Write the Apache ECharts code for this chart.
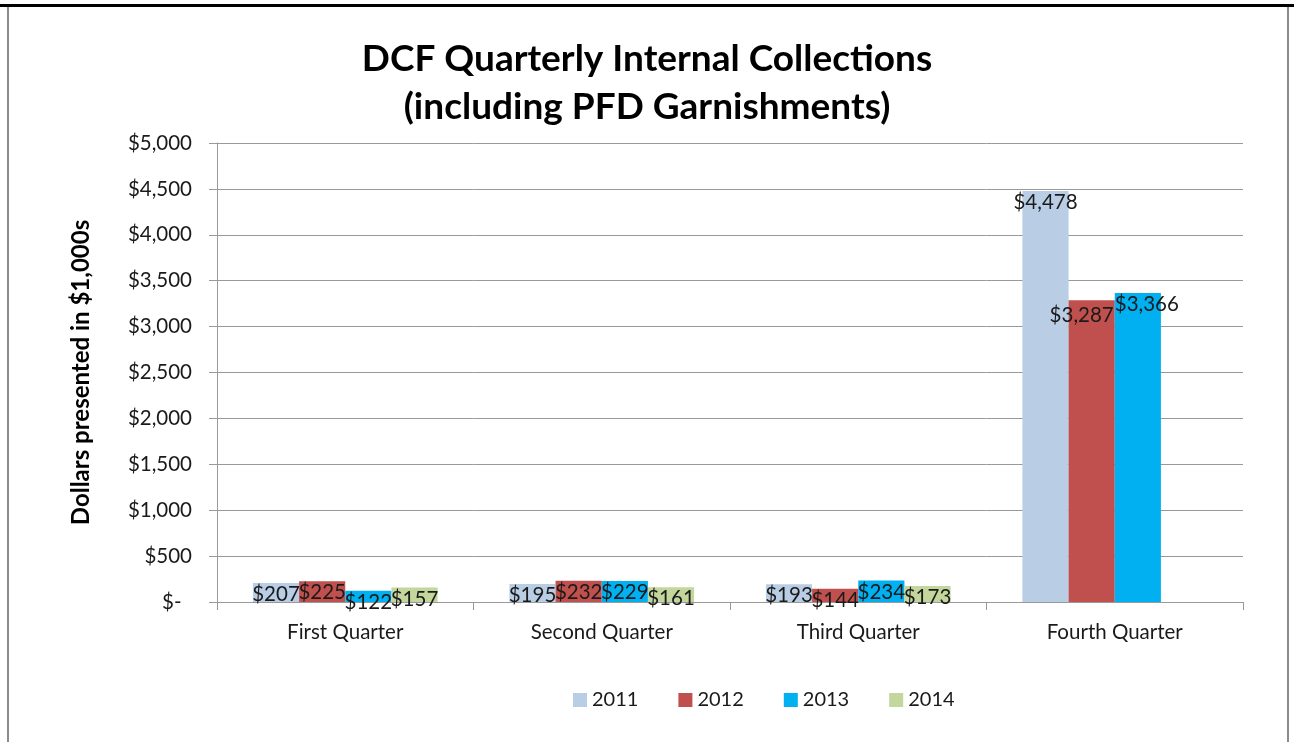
<!DOCTYPE html>
<html>
<head>
<meta charset="utf-8">
<title>DCF Quarterly Internal Collections</title>
<script src="https://cdn.jsdelivr.net/npm/echarts@6/dist/echarts.min.js"></script>
<style>
    html, body { margin: 0; padding: 0; background: #fff; }
    #main { width: 1294px; height: 742px; }
</style>
</head>
<body>
<div id="main"></div>
<script>
    // data (values in $1,000s)
    var quarters = ['First Quarter', 'Second Quarter', 'Third Quarter', 'Fourth Quarter'];
    var years = ['2011', '2012', '2013', '2014'];
    var v2011 = [207, 195, 193, 4478];
    var v2012 = [225, 232, 144, 3287];
    var v2013 = [122, 229, 234, 3366];
    var v2014 = [157, 161, 173, null];
    var yTicks = [0, 500, 1000, 1500, 2000, 2500, 3000, 3500, 4000, 4500, 5000];

    var colors = ['#B9CDE5', '#C0504D', '#00B0F0', '#C3D69B'];
    var font = 'Lato, "Open Sans", sans-serif';

    function money(v) {
        if (v === 0) return '$-  ';
        return '$' + String(v).replace(/\B(?=(\d{3})+(?!\d))/g, ',');
    }

    // excel put a couple of the big labels a bit off centre
    var labelShift = { '2012': { 3: [-10, 4] }, '2013': { 3: [9, 0] } };

    function makeSeries(name, values, i) {
        var shifts = labelShift[name] || {};
        return {
            name: name,
            type: 'bar',
            barGap: 0,
            barCategoryGap: '28%',
            itemStyle: { color: colors[i] },
            label: {
                show: true,
                position: 'insideTop',
                distance: 1,
                fontFamily: font,
                fontSize: 20.5,
                color: '#1a1a1a',
                formatter: function (p) { return money(p.value); }
            },
            data: values.map(function (v, k) {
                if (shifts[k]) {
                    return { value: v, label: { offset: shifts[k] } };
                }
                return v;
            })
        };
    }

    var myChart = echarts.init(document.getElementById('main'));
    var option = {
        animation: false,
        backgroundColor: '#fff',
        title: {
            text: 'DCF Quarterly Internal Collections\n(including PFD Garnishments)',
            left: 'center',
            top: 30,
            textStyle: {
                fontFamily: font,
                fontWeight: 'bold',
                fontSize: 37,
                lineHeight: 48,
                color: '#000'
            }
        },
        legend: {
            data: years,
            left: 568,
            top: 685,
            icon: 'rect',
            itemWidth: 14,
            itemHeight: 14,
            itemGap: 40,
            textStyle: { fontFamily: font, fontSize: 20, color: '#1a1a1a' }
        },
        grid: { left: 217, right: 51, top: 143, bottom: 140 },
        xAxis: {
            type: 'category',
            data: quarters,
            axisLine: { lineStyle: { color: '#999', width: 1 } },
            axisTick: { show: true, length: 8, lineStyle: { color: '#999' } },
            axisLabel: { fontFamily: font, fontSize: 20.5, color: '#1a1a1a', margin: 20 }
        },
        yAxis: {
            type: 'value',
            min: yTicks[0],
            max: yTicks[yTicks.length - 1],
            interval: 500,
            name: 'Dollars presented in $1,000s',
            nameLocation: 'middle',
            nameGap: 124,
            nameRotate: 90,
            nameTextStyle: { fontFamily: font, fontWeight: 'bold', fontSize: 24, color: '#000' },
            axisLine: { show: true, lineStyle: { color: '#999', width: 1 } },
            axisTick: { show: true, length: 8, lineStyle: { color: '#999' } },
            splitLine: { lineStyle: { color: '#999', width: 1 } },
            axisLabel: {
                fontFamily: font,
                fontSize: 20.5,
                color: '#1a1a1a',
                margin: 25,
                formatter: money
            }
        },
        graphic: [
            // frame of the pasted chart
            { type: 'rect', shape: { x: 0, y: 4, width: 1294, height: 3 }, style: { fill: '#000' } },
            { type: 'rect', shape: { x: 7, y: 7, width: 2, height: 735 }, style: { fill: '#8c8c8c' } },
            { type: 'rect', shape: { x: 1287, y: 7, width: 2, height: 735 }, style: { fill: '#8c8c8c' } }
        ],
        series: [
            makeSeries('2011', v2011, 0),
            makeSeries('2012', v2012, 1),
            makeSeries('2013', v2013, 2),
            makeSeries('2014', v2014, 3)
        ]
    };
    myChart.setOption(option);
</script>
</body>
</html>
